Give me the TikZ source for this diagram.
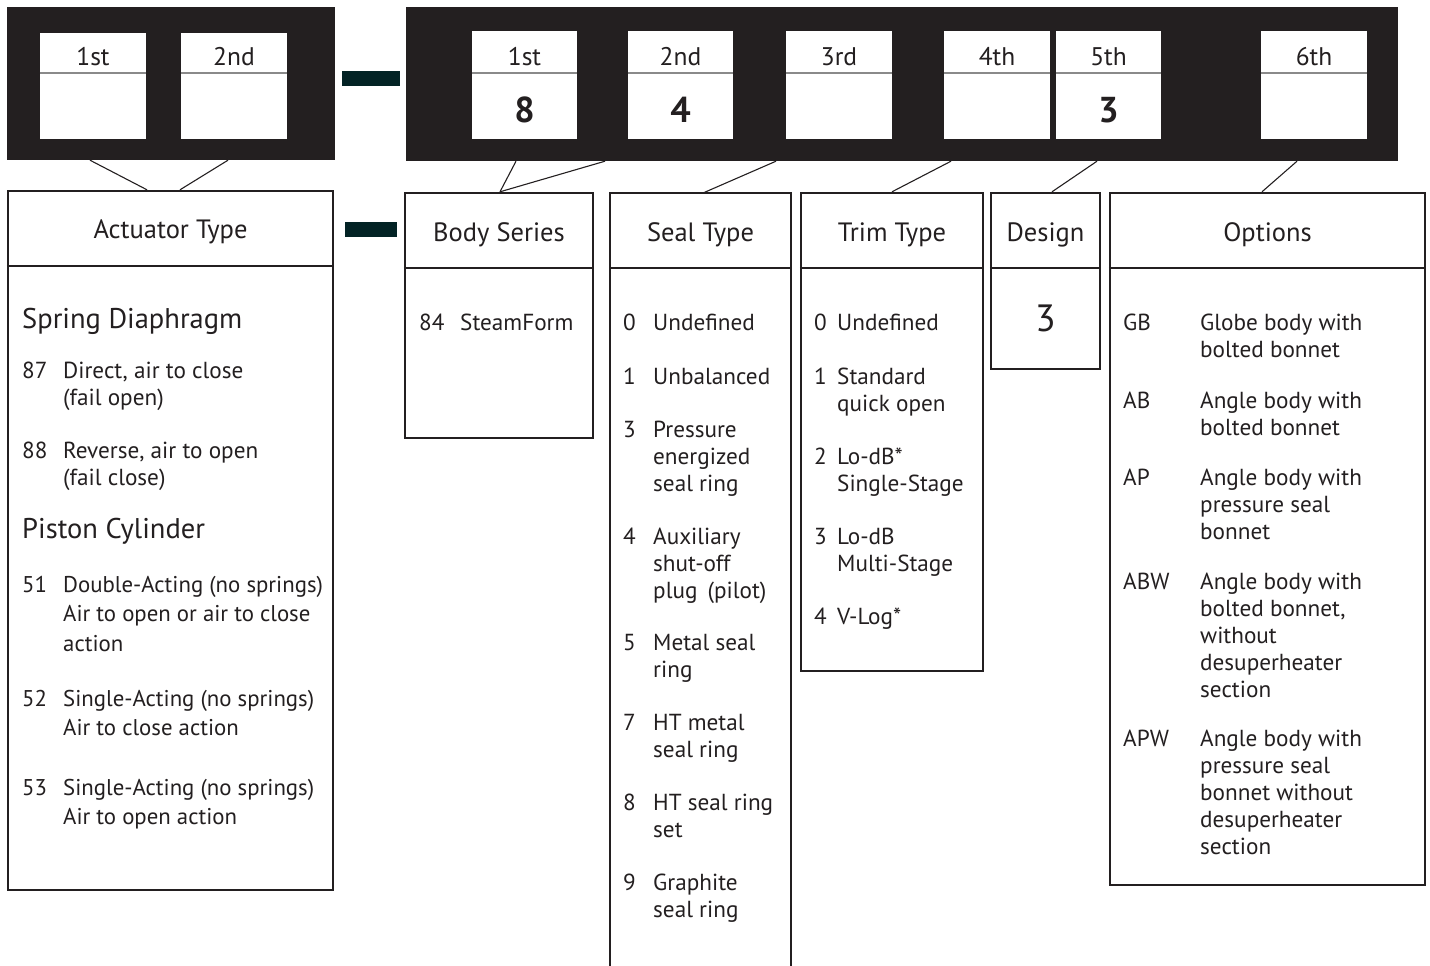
\documentclass[tikz,border=0pt]{standalone}
\usepackage{fontspec}
\setmainfont{PT Sans}
\definecolor{blk}{HTML}{231F20}
\definecolor{dsh}{HTML}{032325}
\definecolor{sep}{HTML}{8A8A8A}
\newcommand\lns[1]{\begin{tabular}[t]{@{}l@{}}#1\end{tabular}}
\begin{document}
\begin{tikzpicture}[x=1pt,y=-1pt,
  panel/.style={fill=blk,draw=none,inner sep=0pt},
  slot/.style={fill=white,draw=none,inner sep=0pt},
  dashbar/.style={fill=dsh,draw=none,inner sep=0pt},
  catbox/.style={draw=blk,line width=2.4pt,fill=white,inner sep=0pt},
  hdrline/.style={draw=blk,line width=1.4pt},
  slotline/.style={draw=sep,line width=1.6pt},
  conn/.style={draw=blk,line width=1.1pt},
  lbl/.style={font=\fontsize{25.5}{30}\selectfont,text=blk,anchor=base,inner sep=0pt},
  dig/.style={font=\fontsize{36}{40}\selectfont\bfseries,text=blk,anchor=base,inner sep=0pt},
  head/.style={font=\fontsize{26.5}{30}\selectfont,text=blk,anchor=base,inner sep=0pt},
  big/.style={font=\fontsize{28.5}{34}\selectfont,text=blk,anchor=base west,inner sep=0pt},
  txt/.style={font=\fontsize{23.2}{27}\selectfont,text=blk,anchor=base west,inner sep=0pt},
  txtw/.style={font=\fontsize{22.8}{29.5}\selectfont,text=blk,anchor=base west,inner sep=0pt}
]
\useasboundingbox (0,0) rectangle (1430,966);
% ---------- top panels ----------
\node[panel,minimum width=328,minimum height=153] (pL) at (171,83.5) {};
\node[panel,minimum width=992,minimum height=154] (pR) at (902,84) {};
\node[dashbar,minimum width=58,minimum height=15] (d1) at (371,78.5) {};
\node[dashbar,minimum width=52,minimum height=15] (d2) at (371,229.5) {};
% slots left
\node[slot,minimum width=106,minimum height=106] (a1) at (93,86) {};
\node[slot,minimum width=106,minimum height=106] (a2) at (234,86) {};
% slots right
\node[slot,minimum width=105,minimum height=108] (b1) at (524.5,85) {};
\node[slot,minimum width=105,minimum height=108] (b2) at (680.5,85) {};
\node[slot,minimum width=106,minimum height=108] (b3) at (839,85) {};
\node[slot,minimum width=106,minimum height=108] (b4) at (997,85) {};
\node[slot,minimum width=105,minimum height=108] (b5) at (1108.5,85) {};
\node[slot,minimum width=106,minimum height=108] (b6) at (1314,85) {};
\foreach \s in {a1,a2,b1,b2,b3,b4,b5,b6}{
  \draw[slotline] (\s.west |- 0,73) -- (\s.east |- 0,73);
}
\node[lbl] (la1) at (a1.center |- 0,66) {1st};
\node[lbl] (la2) at (a2.center |- 0,66) {2nd};
\node[lbl] (lb1) at (b1.center |- 0,66) {1st};
\node[lbl] (lb2) at (b2.center |- 0,66) {2nd};
\node[lbl] (lb3) at (b3.center |- 0,66) {3rd};
\node[lbl] (lb4) at (b4.center |- 0,66) {4th};
\node[lbl] (lb5) at (b5.center |- 0,66) {5th};
\node[lbl] (lb6) at (b6.center |- 0,66) {6th};
\node[dig] (v1) at (b1.center |- 0,122) {8};
\node[dig] (v2) at (b2.center |- 0,122) {4};
\node[dig] (v5) at (b5.center |- 0,122) {3};
% ---------- category boxes ----------
\node[catbox,minimum width=325,minimum height=699] (act) at (170.5,540.5) {};
\node[catbox,minimum width=188,minimum height=245] (body) at (499,315.5) {};
\draw[catbox] (610,990) -- (610,193) -- (791,193) -- (791,990);
\coordinate (sealN) at (700.5,193);
\node[catbox,minimum width=182,minimum height=478] (trim) at (892,432) {};
\node[catbox,minimum width=109,minimum height=176] (des) at (1045.5,281) {};
\node[catbox,minimum width=315,minimum height=692] (opt) at (1267.5,539) {};
\draw[hdrline] (act.west |- 0,266) -- (act.east |- 0,266);
\draw[hdrline] (body.west |- 0,268) -- (body.east |- 0,268);
\draw[hdrline] (610,268) -- (791,268);
\draw[hdrline] (trim.west |- 0,268) -- (trim.east |- 0,268);
\draw[hdrline] (des.west |- 0,268) -- (des.east |- 0,268);
\draw[hdrline] (opt.west |- 0,268) -- (opt.east |- 0,268);
% ---------- connectors ----------
\draw[conn] (pL.south -| 90,0) -- (act.north -| 147,0);
\draw[conn] (pL.south -| 228,0) -- (act.north -| 180,0);
\draw[conn] (pR.south -| 516,0) -- (body.north -| 500,0);
\draw[conn] (pR.south -| 605,0) -- (body.north -| 500,0);
\draw[conn] (pR.south -| 776,0) -- (sealN -| 703,0);
\draw[conn] (pR.south -| 951,0) -- (trim.north -| 892,0);
\draw[conn] (pR.south -| 1097,0) -- (des.north -| 1052,0);
\draw[conn] (pR.south -| 1297,0) -- (opt.north -| 1262,0);
% ---------- headers ----------
\node[head] (hact) at (act.center |- 0,238) {Actuator Type};
\node[head] (hbody) at (body.center |- 0,241) {Body Series};
\node[head] (hseal) at (700.5,241) {Seal Type};
\node[head] (htrim) at (trim.center |- 0,241) {Trim Type};
\node[head] (hdes) at (des.center |- 0,241) {Design};
\node[head] (hopt) at (opt.center |- 0,241) {Options};
% ---------- actuator ----------
\node[big] (sd) at (22,328) {Spring Diaphragm};
\node[txt] (n87) at (22,378) {87};
\node[txt] (t87) at (63,378) {\lns{Direct, air to close\\(fail open)}};
\node[txt] (n88) at (22,458) {88};
\node[txt] (t88) at (63,458) {\lns{Reverse, air to open\\(fail close)}};
\node[big] (pc) at (22,538) {Piston Cylinder};
\node[txtw] (n51) at (22,592) {51};
\node[txtw] (t51) at (63,592) {\lns{Double-Acting (no springs)\\Air to open or air to close\\action}};
\node[txtw] (n52) at (22,706) {52};
\node[txtw] (t52) at (63,706) {\lns{Single-Acting (no springs)\\Air to close action}};
\node[txtw] (n53) at (22,795) {53};
\node[txtw] (t53) at (63,795) {\lns{Single-Acting (no springs)\\Air to open action}};
% ---------- body ----------
\node[txt] (n84) at (419,330) {84};
\node[txt] (t84) at (460,330) {SteamForm};
% ---------- seal ----------
\node[txt] (s0n) at (623,330) {0};
\node[txt] (s0t) at (653,330) {Undefined};
\node[txt] (s1n) at (623,384) {1};
\node[txt] (s1t) at (653,384) {Unbalanced};
\node[txt] (s3n) at (623,437) {3};
\node[txt] (s3t) at (653,437) {\lns{Pressure\\energized\\seal ring}};
\node[txt] (s4n) at (623,544) {4};
\node[txt] (s4t) at (653,544) {\lns{Auxiliary\\shut-off\\plug\ \,(pilot)}};
\node[txt] (s5n) at (623,650) {5};
\node[txt] (s5t) at (653,650) {\lns{Metal seal\\ring}};
\node[txt] (s7n) at (623,730) {7};
\node[txt] (s7t) at (653,730) {\lns{HT metal\\seal ring}};
\node[txt] (s8n) at (623,810) {8};
\node[txt] (s8t) at (653,810) {\lns{HT seal ring\\set}};
\node[txt] (s9n) at (623,890) {9};
\node[txt] (s9t) at (653,890) {\lns{Graphite\\seal ring}};
% ---------- trim ----------
\node[txt] (r0n) at (814,330) {0};
\node[txt] (r0t) at (837,330) {Undefined};
\node[txt] (r1n) at (814,384) {1};
\node[txt] (r1t) at (837,384) {\lns{Standard\\quick open}};
\node[txt] (r2n) at (814,464) {2};
\node[txt] (r2t) at (837,464) {\lns{Lo-dB*\\Single-Stage}};
\node[txt] (r3n) at (814,544) {3};
\node[txt] (r3t) at (837,544) {\lns{Lo-dB\\Multi-Stage}};
\node[txt] (r4n) at (814,624) {4};
\node[txt] (r4t) at (837,624) {V-Log*};
% ---------- design ----------
\node[font=\fontsize{38}{44}\selectfont,text=blk,anchor=base,inner sep=0pt] (d3) at (des.center |- 0,331) {3};
% ---------- options ----------
\node[txt] (oGB) at (1123,330) {GB};
\node[txt] (oGBt) at (1200,330) {\lns{Globe body with\\bolted bonnet}};
\node[txt] (oAB) at (1123,408) {AB};
\node[txt] (oABt) at (1200,408) {\lns{Angle body with\\bolted bonnet}};
\node[txt] (oAP) at (1123,485) {AP};
\node[txt] (oAPt) at (1200,485) {\lns{Angle body with\\pressure seal\\bonnet}};
\node[txt] (oABW) at (1123,589) {ABW};
\node[txt] (oABWt) at (1200,589) {\lns{Angle body with\\bolted bonnet,\\without\\desuperheater\\section}};
\node[txt] (oAPW) at (1123,746) {APW};
\node[txt] (oAPWt) at (1200,746) {\lns{Angle body with\\pressure seal\\bonnet without\\desuperheater\\section}};
\end{tikzpicture}
\end{document}
